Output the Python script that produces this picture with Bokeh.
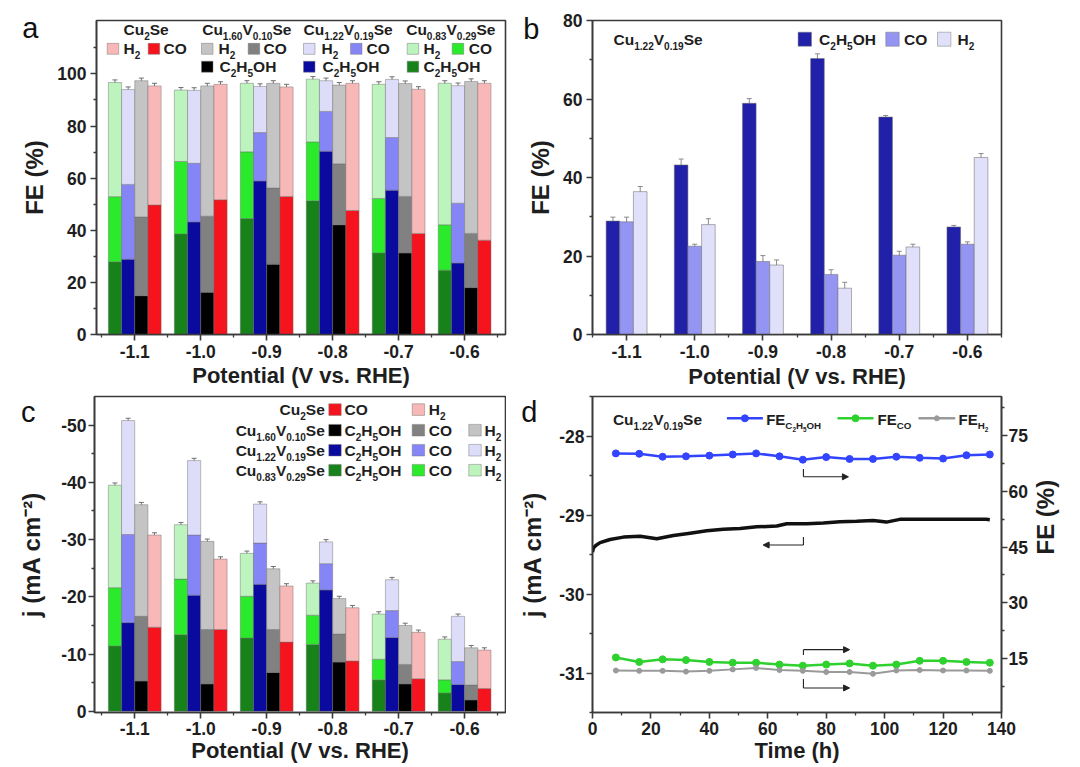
import math
import numpy as np
from bokeh.plotting import figure
from bokeh.models import (Range1d, LinearAxis, FixedTicker, PrintfTickFormatter,
                          Whisker, TeeHead, ColumnDataSource, Arrow, NormalHead)
from bokeh.layouts import row, column
from bokeh.core.properties import value
from bokeh.embed import file_html
from bokeh.resources import INLINE

FONT = "Liberation Sans"
TXT = "#1e1e1e"
AXC = "#3a3a3a"

# ---------------- data ----------------
potentials = [-1.1, -1.0, -0.9, -0.8, -0.7, -0.6]
pot_minor = [-1.15, -1.05, -0.95, -0.85, -0.75, -0.65, -0.55]

# (a) FE (%) of each product, stacked C2H5OH / CO / H2
fe_g_eth = [27.9, 38.6, 44.5, 51.3, 31.3, 24.7]   # Cu0.83V0.29Se
fe_g_co = [25.0, 27.8, 25.6, 22.6, 20.9, 17.4]
fe_g_h2 = [43.8, 27.4, 26.3, 24.1, 43.8, 54.3]
fe_b_eth = [28.9, 43.2, 58.9, 70.3, 55.4, 27.4]   # Cu1.22V0.19Se (also panel b)
fe_b_co = [28.7, 22.5, 18.6, 15.3, 20.2, 23.0]
fe_b_h2 = [36.4, 28.0, 17.7, 11.8, 22.3, 45.1]
fe_k_eth = [14.9, 16.2, 27.0, 42.1, 31.3, 18.0]   # Cu1.60V0.10Se
fe_k_co = [30.2, 29.2, 29.2, 23.4, 21.7, 20.8]
fe_k_h2 = [52.3, 50.0, 40.2, 30.2, 43.3, 58.3]
fe_r_co = [49.7, 51.7, 53.0, 47.6, 38.8, 36.2]    # Cu2Se
fe_r_h2 = [45.7, 44.3, 42.0, 48.8, 55.3, 60.2]
err_a = 1.0

# (b) error bars
err_b_eth = [1.0, 1.5, 1.2, 1.2, 0.4, 0.4]
err_b_co = [1.2, 0.5, 1.5, 1.2, 1.0, 0.6]
err_b_h2 = [1.3, 1.5, 1.3, 1.5, 0.7, 1.0]

# (c) partial current density magnitudes (mA cm-2)
j_g_eth = [11.4, 13.4, 12.8, 11.7, 5.5, 3.2]
j_g_co = [10.2, 9.7, 7.3, 5.1, 3.6, 2.3]
j_g_h2 = [17.9, 9.5, 7.5, 5.6, 7.9, 7.1]
j_b_eth = [15.5, 20.3, 22.2, 21.2, 12.9, 4.7]
j_b_co = [15.4, 10.5, 7.2, 4.6, 4.7, 4.0]
j_b_h2 = [19.9, 13.0, 6.8, 3.8, 5.4, 7.9]
j_k_eth = [5.3, 4.8, 6.8, 8.6, 4.8, 2.0]
j_k_co = [11.3, 9.5, 7.5, 4.9, 3.4, 2.6]
j_k_h2 = [19.5, 15.4, 10.6, 6.2, 6.8, 6.5]
j_r_co = [14.7, 14.3, 12.1, 8.8, 5.7, 4.0]
j_r_h2 = [16.1, 12.3, 9.8, 9.3, 8.1, 6.7]
err_c = 0.4

# (d) stability test
cur_t = [0, 0.3, 1, 2.6, 6, 10.6, 16.3, 22, 27.7, 33.4, 39.1, 44.8, 50.5, 56.2, 63.1,
         66.5, 73.3, 79, 84.7, 90.4, 96.1, 100.6, 105.2, 113.2, 124.6, 134.8, 136]
cur_j = [-29.47, -29.42, -29.39, -29.35, -29.31, -29.28, -29.27, -29.30, -29.26, -29.23,
         -29.20, -29.18, -29.17, -29.15, -29.14, -29.11, -29.11, -29.10, -29.085, -29.08,
         -29.07, -29.09, -29.055, -29.055, -29.055, -29.055, -29.06]
fe_time = [8, 16, 24, 32, 40, 48, 56, 64, 72, 80, 88, 96, 104, 112, 120, 128, 136]
fe_eth_t = [70.2, 70.1, 69.3, 69.4, 69.6, 69.9, 70.2, 69.4, 68.5, 69.2, 68.7, 68.7, 69.3,
            69.0, 68.8, 69.7, 69.9]
fe_co_t = [15.3, 14.1, 14.8, 14.6, 14.1, 13.9, 13.9, 13.4, 13.1, 13.4, 13.7, 13.1, 13.4,
           14.4, 14.4, 14.1, 13.9]
fe_h2_t = [11.8, 11.7, 11.7, 11.5, 11.7, 12.1, 12.5, 11.9, 11.7, 11.4, 11.4, 10.9, 11.8,
           11.9, 11.8, 11.8, 11.7]
# axis-pointer arrows: (x list, y list, range)
arrow_eth = ([72.2, 72.2, 87.6], [66.0, 63.9, 63.9], "fe")
arrow_cur = ([72.2, 72.2, 58.4], [-29.28, -29.38, -29.38], "default")
arrow_co = ([72.2, 72.2, 88.0], [16.0, 17.4, 17.4], "fe")
arrow_h2 = ([72.2, 72.2, 88.0], [9.5, 7.1, 7.1], "fe")

# colours
C_G = ["#17821A", "#2BEA2B", "#BDF4BD"]
C_B = ["#0A0A9E", "#8585F5", "#DDDDF9"]
C_K = ["#000000", "#818181", "#C4C4C4"]
C_R = ["#F5141E", "#F9B8B8"]
C_PB = ["#2020A8", "#9494F2", "#E0E0FA"]

# ---------------- helpers ----------------
AW = {' ': 278, '.': 278, '-': 333, '(': 333, ')': 333, '%': 889, 'C': 722, 'u': 611,
      'S': 667, 'e': 556, 'V': 667, 'H': 722, 'O': 778, 'F': 611, 'E': 667}
for _d in '0123456789':
    AW[_d] = 556
SUBF, SUBD = 0.65, 0.28
CAPC = 0.358   # cap centre above baseline (em)


def tw(s, size):
    return sum(AW.get(ch, 600) for ch in s) * size / 1000.0


def chem(*parts):
    return [(t, i % 2) for i, t in enumerate(parts)]


def make_P(xr, yr, fw, fh):
    x0, x1 = xr
    y0, y1 = yr

    def P(px, py):
        return x0 + px * (x1 - x0) / fw, y1 - py * (y1 - y0) / fh
    return P


def rich(p, P, px, py, pieces, size=15.5, align="left"):
    """py = baseline (px from frame top)."""
    widths = [tw(t, size * SUBF ** lv) for t, lv in pieces]
    x = px - sum(widths) if align == "right" else px
    for (t, lv), w in zip(pieces, widths):
        sz = size * SUBF ** lv
        dy = sum(size * SUBF ** k * SUBD for k in range(lv))
        X, Y = P(x, py + dy - CAPC * sz)
        p.text(x=[X], y=[Y], text=[t], text_font=value(FONT), text_font_style="bold",
               text_font_size=f"{sz:.2f}px", text_baseline="middle",
               text_align="left", text_color=TXT)
        x += w
    return x


def box(p, P, l, t, w, h, color):
    X0, Y0 = P(l, t)
    X1, Y1 = P(l + w, t + h)
    p.quad(left=[X0], right=[X1], top=[Y0], bottom=[Y1], fill_color=color,
           line_color="#777777", line_alpha=0.6, line_width=0.8)


def mkfig(w, h, xr, yr, bl, br, bt, bb, **kw):
    p = figure(width=w, height=h, x_range=Range1d(*xr), y_range=Range1d(*yr),
               output_backend="svg", toolbar_location=None, min_border_left=bl,
               min_border_right=br, min_border_top=bt, min_border_bottom=bb, **kw)
    p.xgrid.visible = False
    p.ygrid.visible = False
    p.outline_line_color = AXC
    p.outline_line_width = 1.6
    p.background_fill_color = "white"
    p.border_fill_color = "white"
    P = make_P(xr, yr, w - bl - br, h - bt - bb)
    return p, P


def style_axis(ax, label, size, standoff, tick_standoff=3):
    ax.axis_label = label
    ax.axis_label_text_font = FONT
    ax.axis_label_text_font_style = "bold"
    ax.axis_label_text_font_size = size
    ax.axis_label_text_color = TXT
    ax.axis_label_standoff = standoff
    ax.major_label_text_font = FONT
    ax.major_label_text_font_style = "bold"
    ax.major_label_text_font_size = "17.5px"
    ax.major_label_text_color = TXT
    ax.major_label_standoff = tick_standoff
    ax.axis_line_color = AXC
    ax.axis_line_width = 1.6
    ax.major_tick_line_color = AXC
    ax.major_tick_line_width = 1.6
    ax.minor_tick_line_color = AXC
    ax.minor_tick_line_width = 1.3
    ax.major_tick_out = 6
    ax.major_tick_in = 0
    ax.minor_tick_out = 3
    ax.minor_tick_in = 0


def pot_axis(p, label_standoff=0, tick_standoff=3):
    ax = p.xaxis[0]
    ax.ticker = FixedTicker(ticks=potentials, minor_ticks=pot_minor)
    ax.formatter = PrintfTickFormatter(format="%.1f")
    style_axis(ax, "Potential (V vs. RHE)", "22px", label_standoff, tick_standoff)


def whisk(p, xs, centers, errs, color="#707070"):
    src = ColumnDataSource(dict(base=list(xs), upper=list(np.array(centers) + np.array(errs)),
                                lower=list(np.array(centers) - np.array(errs))))
    p.add_layout(Whisker(source=src, base="base", upper="upper", lower="lower",
                         line_color=color, line_width=1,
                         upper_head=TeeHead(size=5, line_color=color, line_width=1),
                         lower_head=TeeHead(size=5, line_color=color, line_width=1)))


def stack(p, comps, colors, offset, width, sign, err):
    xs = np.array(potentials) + offset
    bottom = np.zeros(len(potentials))
    for vals, col in zip(comps, colors):
        top = bottom + sign * np.array(vals)
        p.vbar(x=xs, width=width, bottom=bottom, top=top, fill_color=col,
               line_color="#6d6d6d", line_alpha=0.55, line_width=0.8)
        whisk(p, xs, top, [err] * len(xs))
        bottom = top


def letter(p, t, yval, standoff):
    """Panel letter: the single tick label of an extra, otherwise invisible left axis."""
    ax = LinearAxis(ticker=FixedTicker(ticks=[yval], minor_ticks=[]),
                    formatter=PrintfTickFormatter(format=t),
                    axis_line_color=None, major_tick_line_color=None,
                    minor_tick_line_color=None, major_tick_out=0, major_tick_in=0,
                    minor_tick_out=0, minor_tick_in=0, major_label_standoff=standoff,
                    major_label_text_font=FONT, major_label_text_font_size="29px",
                    major_label_text_font_style="normal", major_label_text_color="#111111")
    p.add_layout(ax, "left")


H_LAB = chem("H", "2")
CO_LAB = [("CO", 0)]
ETH_LAB = chem("C", "2", "H", "5", "OH")
CAT = {"r": chem("Cu", "2", "Se"), "k": chem("Cu", "1.60", "V", "0.10", "Se"),
       "b": chem("Cu", "1.22", "V", "0.19", "Se"), "g": chem("Cu", "0.83", "V", "0.29", "Se")}

# ---------------- panel a ----------------
pa, Pa = mkfig(512, 395, (-1.158, -0.538), (0, 120.5), 96, 7, 20, 59)
stack(pa, [fe_g_eth, fe_g_co, fe_g_h2], C_G, -0.03, 0.02, 1, err_a)
stack(pa, [fe_b_eth, fe_b_co, fe_b_h2], C_B, -0.01, 0.02, 1, err_a)
stack(pa, [fe_k_eth, fe_k_co, fe_k_h2], C_K, 0.01, 0.02, 1, err_a)
stack(pa, [fe_r_co, fe_r_h2], C_R, 0.03, 0.02, 1, err_a)
pot_axis(pa, 2, 4)
pa.yaxis[0].ticker = FixedTicker(ticks=[0, 20, 40, 60, 80, 100], minor_ticks=[10, 30, 50, 70, 90, 110])
style_axis(pa.yaxis[0], "FE (%)", "24px", 6, 4)
for hx, key in [(27, "r"), (105.7, "k"), (207, "b"), (309.7, "g")]:
    rich(pa, Pa, hx, 15, CAT[key])
for bx, tx, col, lab in [(10.7, 27, C_R[1], H_LAB), (51.7, 67, C_R[0], CO_LAB),
                         (105, 122, C_K[2], H_LAB), (151.7, 167, C_K[1], CO_LAB),
                         (207, 225, C_B[2], H_LAB), (254, 270, C_B[1], CO_LAB),
                         (310.7, 327, C_G[2], H_LAB), (355.7, 372.3, C_G[1], CO_LAB)]:
    box(pa, Pa, bx, 23, 11.5, 11, col)
    rich(pa, Pa, tx, 34, lab)
for bx, tx, col in [(105, 123, C_K[0]), (207, 226, C_B[0]), (310.7, 327, C_G[0])]:
    box(pa, Pa, bx, 41, 11.5, 11, col)
    rich(pa, Pa, tx, 52, ETH_LAB)
letter(pa, "a", 117.6, -20)

# ---------------- panel b ----------------
pb, Pb = mkfig(568, 395, (-1.15, -0.55), (0, 80), 80, 79, 20, 61)
for vals, errs, col, off in [(fe_b_eth, err_b_eth, C_PB[0], -0.02),
                             (fe_b_co, err_b_co, C_PB[1], 0.0),
                             (fe_b_h2, err_b_h2, C_PB[2], 0.02)]:
    xs = np.array(potentials) + off
    pb.vbar(x=xs, width=0.02, bottom=0, top=vals, fill_color=col,
            line_color="#6d6d6d", line_alpha=0.6, line_width=0.9)
    whisk(pb, xs, vals, errs, color="#8a8a8a")
pot_axis(pb, 3, 4)
pb.yaxis[0].ticker = FixedTicker(ticks=[0, 20, 40, 60, 80], minor_ticks=[10, 30, 50, 70])
style_axis(pb.yaxis[0], "FE (%)", "24px", 6, 4)
rich(pb, Pb, 21, 24.4, CAT["b"])
for bx, tx, col, lab in [(205.6, 226.6, C_PB[0], ETH_LAB), (293.3, 311.6, C_PB[1], CO_LAB),
                         (345, 365, C_PB[2], H_LAB)]:
    box(pb, Pb, bx, 11.7, 13.4, 14, col)
    rich(pb, Pb, tx, 24.4, lab)
letter(pb, "b", 77.8, -15)

# ---------------- panel c ----------------
pc, Pc = mkfig(506, 372, (-1.161, -0.538), (0.2, -55), 94, 1, 1, 55)
stack(pc, [j_g_eth, j_g_co, j_g_h2], C_G, -0.03, 0.02, -1, err_c)
stack(pc, [j_b_eth, j_b_co, j_b_h2], C_B, -0.01, 0.02, -1, err_c)
stack(pc, [j_k_eth, j_k_co, j_k_h2], C_K, 0.01, 0.02, -1, err_c)
stack(pc, [j_r_co, j_r_h2], C_R, 0.03, 0.02, -1, err_c)
pot_axis(pc)
pc.yaxis[0].ticker = FixedTicker(ticks=[0, -10, -20, -30, -40, -50],
                                 minor_ticks=[-5, -15, -25, -35, -45])
pc.yaxis[0].formatter = PrintfTickFormatter(format="%d")
style_axis(pc.yaxis[0], "j (mA cm⁻²)", "24px", 13, 2)
rows_c = [18.9, 39.5, 59.5, 79.5]
rich(pc, Pc, 230.3, rows_c[0], CAT["r"], align="right")
box(pc, Pc, 234.3, rows_c[0] - 11.6, 12.4, 11.6, C_R[0])
rich(pc, Pc, 250, rows_c[0], CO_LAB)
box(pc, Pc, 317.7, rows_c[0] - 11.6, 12.4, 11.6, C_R[1])
rich(pc, Pc, 334.3, rows_c[0], H_LAB)
for yb, key, cols in [(rows_c[1], "k", C_K), (rows_c[2], "b", C_B), (rows_c[3], "g", C_G)]:
    rich(pc, Pc, 230.3, yb, CAT[key], align="right")
    for bx, tx, col, lab in [(234.3, 250, cols[0], ETH_LAB), (317.7, 334.3, cols[1], CO_LAB),
                             (374.3, 390, cols[2], H_LAB)]:
        box(pc, Pc, bx, yb - 11.6, 12.4, 11.6, col)
        rich(pc, Pc, tx, yb, lab)
letter(pc, "c", -52.45, -20)

# ---------------- panel d ----------------
pd_, Pd = mkfig(574, 372, (0, 140), (-31.5, -27.5), 86, 79, 1, 55,
                extra_y_ranges={"fe": Range1d(0.5, 85.5)})
pd_.line(cur_t, cur_j, line_color="#111111", line_width=3.5)
for ys, col, lw, ms in [(fe_eth_t, "#3344FF", 2.5, 7), (fe_co_t, "#2ED12E", 2.5, 7),
                        (fe_h2_t, "#9A9A9A", 2.0, 5)]:
    pd_.line(fe_time, ys, line_color=col, line_width=lw, y_range_name="fe")
    pd_.scatter(fe_time, ys, marker="circle", size=ms, fill_color=col, line_color=col,
                y_range_name="fe")
for xs, ys, rn in [arrow_eth, arrow_cur, arrow_co, arrow_h2]:
    pd_.line(xs[:2], ys[:2], line_color="#222222", line_width=1.1, y_range_name=rn)
    pd_.add_layout(Arrow(x_start=xs[1], y_start=ys[1], x_end=xs[2], y_end=ys[2],
                         line_color="#222222", line_width=1.1, y_range_name=rn,
                         end=NormalHead(size=6, fill_color="#222222", line_color="#222222")))
pd_.add_layout(LinearAxis(y_range_name="fe"), "right")
xa = pd_.xaxis[0]
xa.ticker = FixedTicker(ticks=list(range(0, 141, 20)), minor_ticks=list(range(10, 140, 20)))
style_axis(xa, "Time (h)", "22px", 0)
ya = pd_.yaxis[0]
ya.ticker = FixedTicker(ticks=[-28, -29, -30, -31], minor_ticks=[-27.5, -28.5, -29.5, -30.5, -31.5])
ya.formatter = PrintfTickFormatter(format="%d")
style_axis(ya, "j (mA cm⁻²)", "24px", 10, 2)
yr = pd_.yaxis[1]
yr.ticker = FixedTicker(ticks=[15, 30, 45, 60, 75], minor_ticks=[7.5, 22.5, 37.5, 52.5, 67.5, 82.5])
style_axis(yr, "FE (%)", "24px", 15, 1)
try:
    yr.axis_label_orientation = math.pi / 2   # read bottom-to-top like the reference
except Exception:
    pass
rich(pd_, Pd, 20.4, 28.3, CAT["b"])
FE_ETH = [("FE", 0), ("C", 1), ("2", 2), ("H", 1), ("5", 2), ("OH", 1)]
FE_CO = [("FE", 0), ("CO", 1)]
FE_H2 = [("FE", 0), ("H", 1), ("2", 2)]
for l, r, tx, col, ms, lab in [(134.4, 170.4, 173.7, "#3344FF", 7, FE_ETH),
                               (245, 281, 285, "#2ED12E", 7, FE_CO),
                               (326, 362.7, 366, "#9A9A9A", 5, FE_H2)]:
    X0, Y0 = Pd(l, 21.8)
    X1, _ = Pd(r, 21.8)
    pd_.line([X0, X1], [Y0, Y0], line_color=col, line_width=2.5)
    pd_.scatter([(X0 + X1) / 2], [Y0], marker="circle", size=ms, fill_color=col, line_color=col)
    rich(pd_, Pd, tx, 28.3, lab, size=15)
letter(pd_, "d", -27.685, -21)

layout = column(row(pa, pb), row(pc, pd_))
open("out.html", "w").write(file_html(layout, INLINE))
